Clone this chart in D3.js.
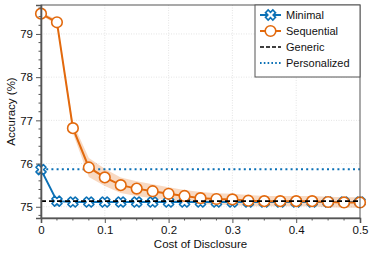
<!DOCTYPE html>
<html>
<head>
<meta charset="utf-8">
<script src="https://cdn.jsdelivr.net/npm/d3@7"></script>
<style>
  body { margin: 0; background: #fff; }
  svg { font-family: "Liberation Sans", Arial, sans-serif; }
  .grid line { stroke: #ddd; stroke-dasharray: 1,1.5; stroke-width: 0.8; }
</style>
</head>
<body>
<svg id="chart" width="374" height="258"></svg>
<script>
const costs = [0, 0.025, 0.05, 0.075, 0.1, 0.125, 0.15, 0.175, 0.2, 0.225, 0.25,
  0.275, 0.3, 0.325, 0.35, 0.375, 0.4, 0.425, 0.45, 0.475, 0.5];
const minimal = [75.86, 75.13, 75.11, 75.11, 75.11, 75.11, 75.11, 75.11, 75.11, 75.11, 75.11,
  75.11, 75.11, 75.11, 75.11, 75.11, 75.11, 75.11, 75.11, 75.11, 75.11];
const sequential = [79.47, 79.27, 76.82, 75.91, 75.68, 75.5, 75.42, 75.36, 75.3, 75.25, 75.2,
  75.18, 75.17, 75.14, 75.13, 75.13, 75.13, 75.13, 75.11, 75.1, 75.1];
const seqSpread = [0.04, 0.06, 0.12, 0.22, 0.2, 0.18, 0.17, 0.16, 0.15, 0.14, 0.14,
  0.13, 0.13, 0.13, 0.12, 0.12, 0.12, 0.12, 0.12, 0.12, 0.12];
const genericAcc = 75.13;
const personalizedAcc = 75.87;
const xTicks = [0, 0.1, 0.2, 0.3, 0.4, 0.5];
const yTicks = [75, 76, 77, 78, 79];
const legendNames = ["Minimal", "Sequential", "Generic", "Personalized"];

const blue = "#0c71b6";
const orange = "#e2690d";
const axisColor = "#555";

const svg = d3.select("#chart");
const margin = { top: 5, right: 14, bottom: 40, left: 41 };
const width = 374, height = 258;
const innerWidth = width - margin.left - margin.right;
const innerHeight = height - margin.top - margin.bottom;

const g = svg.append("g").attr("transform", `translate(${margin.left},${margin.top})`);

const xScale = d3.scaleLinear().domain([0, 0.5]).range([0, innerWidth]);
const yScale = d3.scaleLinear().domain([74.74, 79.67]).range([innerHeight, 0]);

// grid
g.append("g").attr("class", "grid")
  .selectAll("line").data(xTicks.slice(1, -1)).join("line")
  .attr("x1", d => xScale(d)).attr("x2", d => xScale(d))
  .attr("y1", 0).attr("y2", innerHeight);
g.append("g").attr("class", "grid")
  .selectAll("line").data(yTicks).join("line")
  .attr("x1", 0).attr("x2", innerWidth)
  .attr("y1", d => yScale(d)).attr("y2", d => yScale(d));

// band
const seqData = costs.map((c, i) => ({ x: c, y: sequential[i], s: seqSpread[i] }));
const minData = costs.map((c, i) => ({ x: c, y: minimal[i] }));

g.append("path").datum(seqData)
  .attr("fill", orange).attr("fill-opacity", 0.25)
  .attr("d", d3.area().x(d => xScale(d.x)).y0(d => yScale(d.y - d.s)).y1(d => yScale(d.y + d.s)));

// personalized
g.append("line")
  .attr("x1", 0).attr("x2", innerWidth)
  .attr("y1", yScale(personalizedAcc)).attr("y2", yScale(personalizedAcc))
  .attr("stroke", blue).attr("stroke-width", 2).attr("stroke-dasharray", "2,3.2");

const line = d3.line().x(d => xScale(d.x)).y(d => yScale(d.y));

// X marker path
function xMarker(L, w) {
  const pts = [[w, w], [w, L], [-w, L], [-w, w], [-L, w], [-L, -w], [-w, -w], [-w, -L], [w, -L], [w, -w], [L, -w], [L, w]];
  const c = Math.SQRT1_2;
  return "M" + pts.map(p => [(p[0] - p[1]) * c, (p[0] + p[1]) * c].map(v => v.toFixed(2)).join(",")).join("L") + "Z";
}
const xPath = xMarker(5.2, 1.9);

// minimal
g.append("path").datum(minData)
  .attr("fill", "none").attr("stroke", blue).attr("stroke-width", 2).attr("d", line);
g.append("g").selectAll("path").data(minData).join("path")
  .attr("transform", d => `translate(${xScale(d.x)},${yScale(d.y)})`)
  .attr("d", xPath).attr("fill", "#fff").attr("stroke", blue).attr("stroke-width", 1.6)
  .attr("stroke-linejoin", "round");

// sequential
g.append("path").datum(seqData)
  .attr("fill", "none").attr("stroke", orange).attr("stroke-width", 2).attr("d", line);
g.append("g").selectAll("circle").data(seqData).join("circle")
  .attr("cx", d => xScale(d.x)).attr("cy", d => yScale(d.y)).attr("r", 5.3)
  .attr("fill", "#fff").attr("stroke", orange).attr("stroke-width", 1.6);

// generic
g.append("line")
  .attr("x1", 0).attr("x2", innerWidth)
  .attr("y1", yScale(genericAcc)).attr("y2", yScale(genericAcc))
  .attr("stroke", "#000").attr("stroke-width", 1.6).attr("stroke-dasharray", "5,3");

// frame
g.append("rect").attr("width", innerWidth).attr("height", innerHeight)
  .attr("fill", "none").attr("stroke", axisColor).attr("stroke-width", 1);

// axes
const axisX = d3.axisBottom(xScale).tickValues(xTicks).tickFormat(d => d === 0 ? "0" : d3.format(".1f")(d))
  .tickSize(5).tickPadding(3);
const axisY = d3.axisLeft(yScale).tickValues(yTicks).tickFormat(d3.format("d")).tickSize(5).tickPadding(3);

const axisXGroup = g.append("g").attr("transform", `translate(0,${innerHeight})`).call(axisX);
const axisYGroup = g.append("g").call(axisY);

[axisXGroup, axisYGroup].forEach(ax => {
  ax.attr("font-size", 11.5).attr("font-family", "Liberation Sans, Arial, sans-serif");
  ax.select(".domain").attr("stroke", axisColor).attr("stroke-width", 1.6);
  ax.selectAll(".tick line").attr("stroke", axisColor).attr("stroke-width", 1);
  ax.selectAll("text").attr("fill", "#111");
});

// minor ticks
g.append("g").selectAll("line").data(d3.range(0, 0.5001, 0.025).filter(v => Math.abs(v * 10 - Math.round(v * 10)) > 1e-6))
  .join("line")
  .attr("x1", d => xScale(d)).attr("x2", d => xScale(d))
  .attr("y1", innerHeight).attr("y2", innerHeight + 2.5)
  .attr("stroke", axisColor).attr("stroke-width", 1);
g.append("g").selectAll("line").data(d3.range(74.8, 79.65, 0.2).filter(v => Math.abs(v - Math.round(v)) > 1e-6))
  .join("line")
  .attr("x1", -2.5).attr("x2", 0)
  .attr("y1", d => yScale(d)).attr("y2", d => yScale(d))
  .attr("stroke", axisColor).attr("stroke-width", 1);

// axis labels
svg.append("text")
  .attr("x", margin.left + innerWidth / 2).attr("y", 248)
  .attr("text-anchor", "middle").attr("font-size", 11.5).attr("fill", "#111")
  .text("Cost of Disclosure");
svg.append("text")
  .attr("transform", `translate(11,${margin.top + innerHeight / 2}) rotate(-90)`)
  .attr("text-anchor", "middle").attr("dy", "0.35em").attr("font-size", 11.5).attr("fill", "#111")
  .text("Accuracy (%)");

// legend
const legendX = 255 - margin.left;
const legend = g.append("g").attr("transform", `translate(${legendX},0)`);
legend.append("rect").attr("width", innerWidth - legendX).attr("height", 72)
  .attr("fill", "#fff").attr("stroke", axisColor).attr("stroke-width", 1);

legendNames.forEach((name, i) => {
  const row = legend.append("g").attr("transform", `translate(0,${10 + i * 16})`);
  const ln = row.append("line").attr("x1", 5).attr("x2", 26).attr("y1", 0).attr("y2", 0);
  if (i === 0) {
    ln.attr("stroke", blue).attr("stroke-width", 2);
    row.append("path").attr("transform", "translate(15.5,0)").attr("d", xPath)
      .attr("fill", "#fff").attr("stroke", blue).attr("stroke-width", 1.6);
  } else if (i === 1) {
    ln.attr("stroke", orange).attr("stroke-width", 2);
    row.append("circle").attr("cx", 15.5).attr("cy", 0).attr("r", 5.3)
      .attr("fill", "#fff").attr("stroke", orange).attr("stroke-width", 1.6);
  } else if (i === 2) {
    ln.attr("stroke", "#000").attr("stroke-width", 1.4).attr("stroke-dasharray", "4,2");
  } else {
    ln.attr("stroke", blue).attr("stroke-width", 1.8).attr("stroke-dasharray", "1.6,2.2");
  }
  row.append("text").attr("x", 31).attr("y", 0).attr("dy", "0.35em")
    .attr("font-size", 11).attr("fill", "#111").text(name);
});
</script>
</body>
</html>
